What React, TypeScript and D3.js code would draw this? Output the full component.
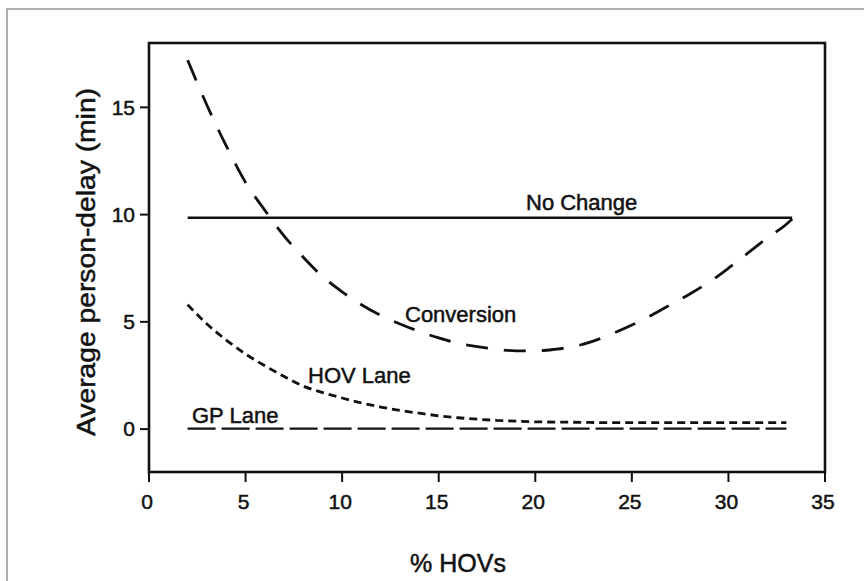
import React from "react";
import * as d3 from "d3";

const xTicks = [0, 5, 10, 15, 20, 25, 30, 35];
const yTicks = [0, 5, 10, 15];

const convX = [2, 3, 4, 5, 6, 7, 8, 9, 10, 11, 12, 13, 14, 15, 16, 17, 18, 19, 20, 21, 22, 23, 24, 25, 26, 27, 28, 29, 30, 31, 32, 33, 33.3];
const convY = [17.2, 15.1, 13.2, 11.5, 10.2, 9.0, 8.0, 7.1, 6.4, 5.8, 5.3, 4.9, 4.55, 4.25, 4.0, 3.85, 3.72, 3.65, 3.65, 3.72, 3.85, 4.1, 4.45, 4.85, 5.3, 5.8, 6.3, 6.85, 7.5, 8.2, 8.9, 9.55, 9.8];

const hovX = [2, 3, 4, 5, 6, 7, 8, 9, 10, 11, 12, 13, 14, 15, 16, 17, 18, 19, 20, 22, 24, 26, 28, 30, 32, 33];
const hovY = [5.8, 4.9, 4.15, 3.5, 2.95, 2.45, 2.0, 1.7, 1.45, 1.22, 1.03, 0.87, 0.74, 0.62, 0.53, 0.46, 0.41, 0.37, 0.34, 0.32, 0.3, 0.3, 0.3, 0.3, 0.3, 0.3];

const gpX = [2, 33];
const gpY = [0.02, 0.02];

const noChangeX = [2, 33.3];
const noChangeY = [9.85, 9.85];

const seriesLabels = ["No Change", "Conversion", "HOV Lane", "GP Lane"];

const FONT = "'Liberation Sans', Arial, Helvetica, sans-serif";

export default function App() {
  const W = 864, H = 581;
  const L = 149, R = 825, T = 43, B = 472;
  const x = d3.scaleLinear().domain([0, 35]).range([L, R]);
  const y = d3.scaleLinear().domain([-2, 18]).range([B, T]);

  const mk = (xs: number[], ys: number[]) =>
    d3.line<number>()
      .x((_, i) => x(xs[i]))
      .y((_, i) => y(ys[i]))
      .curve(d3.curveMonotoneX)(xs) as string;

  const txt = { fill: "#111", stroke: "#111", strokeWidth: 0.5 };

  return (
    <svg width={W} height={H} style={{ position: "absolute", left: 0, top: 0, background: "#fff" }} fontFamily={FONT}>
      <rect x={0} y={0} width={W} height={H} fill="#fff" />
      <rect x={7} y={9} width={W + 20} height={H + 20} fill="none" stroke="#b0b0b0" strokeWidth={2} />

      {/* frame */}
      <rect x={L} y={T} width={R - L} height={B - T} fill="none" stroke="#111" strokeWidth={2.6} />

      {/* x ticks */}
      {xTicks.map((t) => (
        <g key={"x" + t}>
          <line x1={x(t)} x2={x(t)} y1={B} y2={B + 10} stroke="#111" strokeWidth={2} />
          <text x={x(t) - 2} y={509} textAnchor="middle" fontSize={21} {...txt}>{t}</text>
        </g>
      ))}
      {/* y ticks */}
      {yTicks.map((t) => (
        <g key={"y" + t}>
          <line x1={L - 9} x2={L} y1={y(t)} y2={y(t)} stroke="#111" strokeWidth={2} />
          <text x={135} y={y(t)} dy="0.35em" textAnchor="end" fontSize={21} {...txt}>{t}</text>
        </g>
      ))}

      {/* axis titles */}
      <text x={458} y={572} textAnchor="middle" fontSize={25} {...txt}>% HOVs</text>
      <text transform="translate(95,262) rotate(-90)" textAnchor="middle" fontSize={26}
        textLength={348} lengthAdjust="spacingAndGlyphs" {...txt}>
        Average person-delay (min)
      </text>

      {/* series */}
      <path d={mk(noChangeX, noChangeY)} fill="none" stroke="#111" strokeWidth={2.4} />
      <path d={mk(convX, convY)} fill="none" stroke="#111" strokeWidth={2.8} strokeDasharray="22 16" />
      <path d={mk(hovX, hovY)} fill="none" stroke="#111" strokeWidth={2.8} strokeDasharray="8 5" />
      <path d={mk(gpX, gpY)} fill="none" stroke="#111" strokeWidth={2.4} strokeDasharray="28 6" />

      {/* labels */}
      <text x={526} y={210} fontSize={22} {...txt}>{seriesLabels[0]}</text>
      <text x={405} y={322} fontSize={22} {...txt}>{seriesLabels[1]}</text>
      <text x={308} y={383} fontSize={22} {...txt}>{seriesLabels[2]}</text>
      <text x={192} y={423} fontSize={22} {...txt}>{seriesLabels[3]}</text>
    </svg>
  );
}
